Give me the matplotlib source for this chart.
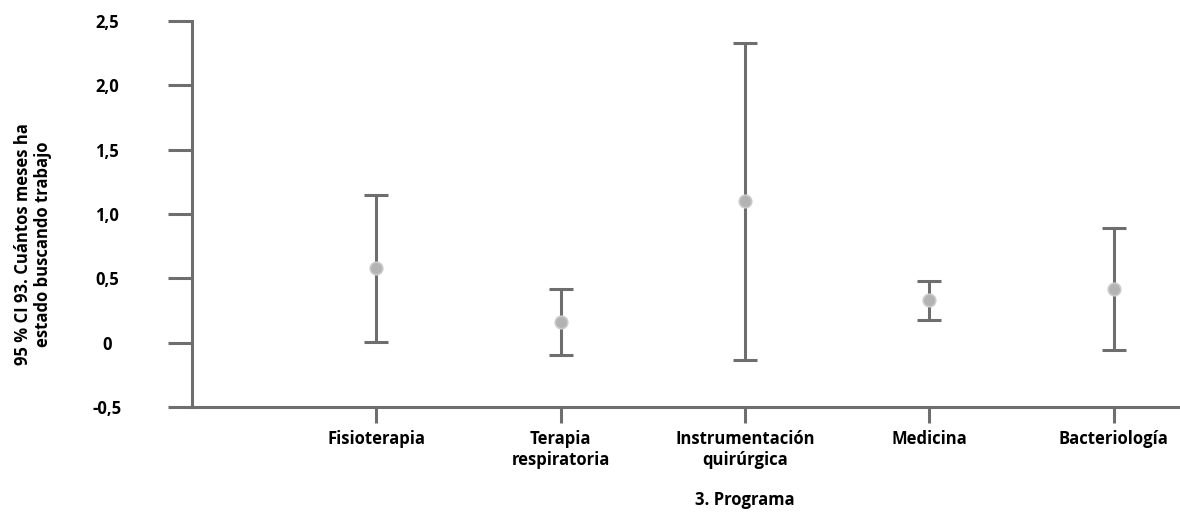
import matplotlib.pyplot as plt
import numpy as np

# Data
programas = ["Fisioterapia", "Terapia\nrespiratoria", "Instrumentación\nquirúrgica",
             "Medicina", "Bacteriología"]
medias = [0.58, 0.16, 1.10, 0.33, 0.42]
ic_inferior = [0.005, -0.095, -0.135, 0.175, -0.055]
ic_superior = [1.15, 0.415, 2.33, 0.48, 0.89]

yticks = [-0.5, 0, 0.5, 1.0, 1.5, 2.0, 2.5]
ytick_labels = ["-0,5", "0", "0,5", "1,0", "1,5", "2,0", "2,5"]

gris = "#6e6e6e"
fs = 12
plt.rcParams['font.family'] = ['Open Sans', 'DejaVu Sans']

fig = plt.figure(figsize=(11.8, 5.12), dpi=100)
ax = fig.add_axes([192 / 1180, 1 - 407 / 512, 1 - 192 / 1180, (407 - 21) / 512])

x = np.arange(1, len(programas) + 1)
medias = np.array(medias)
err = [medias - np.array(ic_inferior), np.array(ic_superior) - medias]

ax.errorbar(x, medias, yerr=err, fmt='none', ecolor=gris, elinewidth=2.2,
            capsize=8.6, capthick=2.2, zorder=2)
ax.plot(x, medias, 'o', markersize=9, markerfacecolor='#b3b3b3',
        markeredgecolor='#cacaca', markeredgewidth=1.2, zorder=3)

ax.set_xlim(0, 5.36)
ax.set_ylim(-0.5, 2.5)
ax.set_xticks(x)
ax.set_xticklabels(programas, fontweight='bold', fontsize=fs, linespacing=1.2)
ax.set_yticks(yticks)
ax.set_yticklabels(ytick_labels, fontweight='bold', fontsize=fs, ha='center')

for s in ['top', 'right']:
    ax.spines[s].set_visible(False)
for s in ['left', 'bottom']:
    ax.spines[s].set_color(gris)
    ax.spines[s].set_linewidth(2.2)

ax.tick_params(axis='y', length=17.3, width=2.2, color=gris, pad=44)
ax.tick_params(axis='x', length=11.5, width=2.2, color=gris, pad=5)

fig.text(33 / 1180, 1 - 244 / 512, "95 % CI 93. Cuántos meses ha\nestado buscando trabajo",
         rotation=90, ha='center', va='center', fontweight='bold', fontsize=fs,
         linespacing=1.2)
fig.text(745 / 1180, 1 - 500 / 512, "3. Programa", ha='center', va='center',
         fontweight='bold', fontsize=fs)

fig.savefig("out.png", dpi=100)
